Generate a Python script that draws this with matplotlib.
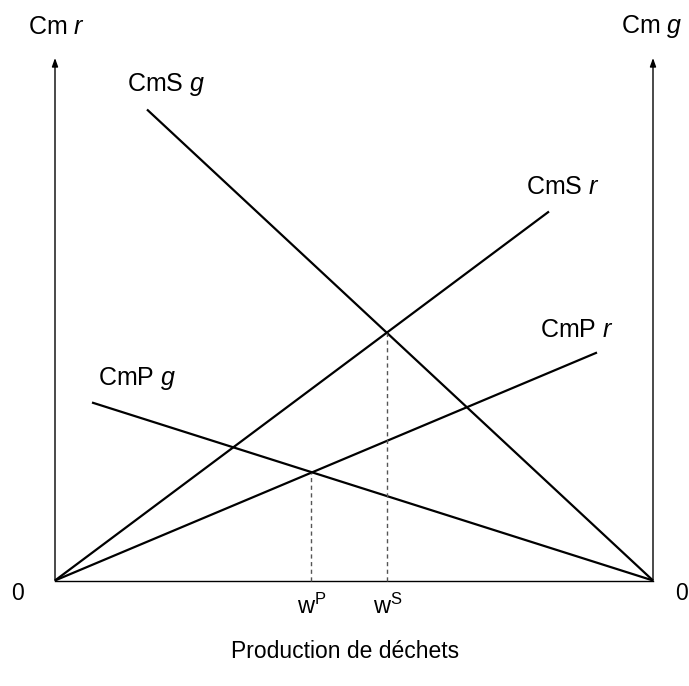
import matplotlib
matplotlib.use("Agg")
import matplotlib.pyplot as plt
import numpy as np

plt.rcParams['font.family'] = ['Liberation Sans', 'DejaVu Sans']
plt.rcParams['mathtext.fontset'] = 'custom'
plt.rcParams['mathtext.rm'] = 'Liberation Sans'
plt.rcParams['mathtext.it'] = 'Liberation Sans:italic'

# Axis extents (data units)
x_max = 598
y_max = 522.5

# Curves (x, y endpoints)
cms_g_x = [92, 598]
cms_g_y = [471, 0]
cms_r_x = [0, 494]
cms_r_y = [0, 369]
cmp_r_x = [0, 542]
cmp_r_y = [0, 228]
cmp_g_x = [37, 598]
cmp_g_y = [178, 0]

# Equilibrium points
w_p = 256
w_s = 332

fig = plt.figure(figsize=(6.89, 6.86), dpi=100)
ax = fig.add_axes([55/689, 105.5/686, 598/689, 522.5/686])
ax.set_xlim(0, x_max)
ax.set_ylim(0, y_max)
ax.axis('off')

lw = 1.6
for xs, ys in [(cms_g_x, cms_g_y), (cms_r_x, cms_r_y), (cmp_r_x, cmp_r_y), (cmp_g_x, cmp_g_y)]:
    ax.plot(xs, ys, color='black', lw=lw, clip_on=False, solid_capstyle='butt')

# axes
ax.plot([0, x_max], [0, 0], color='black', lw=1.0, clip_on=False)
for xa in [0, x_max]:
    ax.annotate('', xy=(xa, y_max), xytext=(xa, 0),
                arrowprops=dict(arrowstyle='-|>,head_length=0.5,head_width=0.18',
                                color='black', lw=1.0, shrinkA=0, shrinkB=0),
                annotation_clip=False)

# dashed verticals
yp = np.interp(w_p, cmp_r_x, cmp_r_y)
ys_ = np.interp(w_s, cms_r_x, cms_r_y)
ax.plot([w_p, w_p], [0, yp], color='#555555', lw=1.0, ls=(0, (3, 2.5)), clip_on=False)
ax.plot([w_s, w_s], [0, ys_], color='#555555', lw=1.0, ls=(0, (3, 2.5)), clip_on=False)

def T(px, py, s, fs, ha='center', va='center'):
    ax.text(px - 55, 580.5 - py, s, fontsize=fs, ha=ha, va=va, clip_on=False)

lf = 18
T(56, 27, 'Cm $r$', lf)
T(652, 27, 'Cm $g$', lf)
T(166, 84, 'CmS $g$', lf)
T(563, 187, 'CmS $r$', lf)
T(577, 330, 'CmP $r$', lf)
T(137, 378, 'CmP $g$', lf)
T(17, 593, '0', 16.5)
T(681, 593, '0', 16.5)
T(312, 606, 'w$^{\\mathrm{P}}$', 17)
T(388, 606, 'w$^{\\mathrm{S}}$', 17)
T(345, 651, 'Production de déchets', 16.5)

fig.savefig('out.png', dpi=100)
